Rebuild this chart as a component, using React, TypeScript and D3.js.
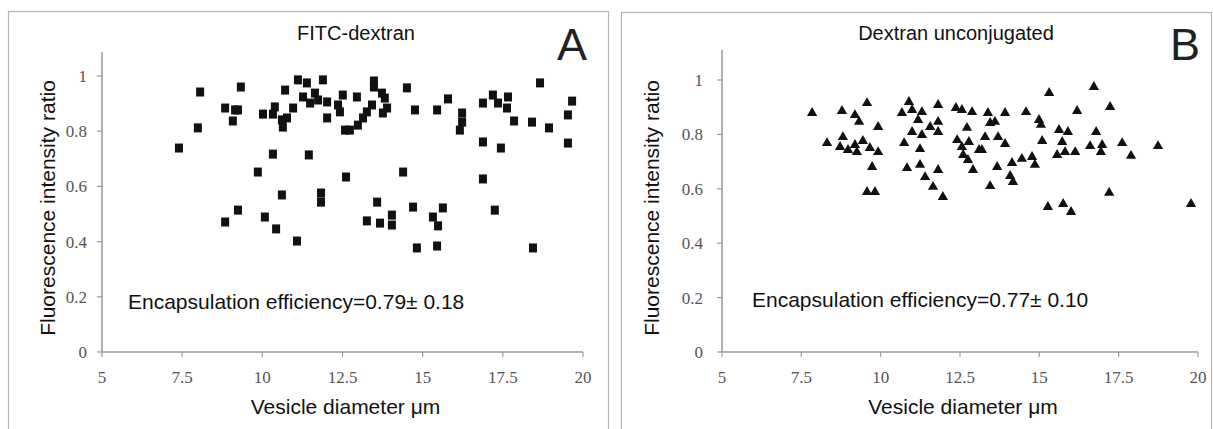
import React from "react";
import * as d3 from "d3";

// diameter (µm), fluorescence intensity ratio
const fitcPoints: [number, number][] = [
  [8.06, 0.942], [9.33, 0.96], [7.99, 0.812], [7.4, 0.739], [8.84, 0.884], [9.15, 0.877],
  [9.24, 0.877], [9.08, 0.837], [10.02, 0.862], [10.39, 0.888], [10.33, 0.862], [10.61, 0.841],
  [10.64, 0.815], [10.77, 0.848], [10.96, 0.884], [10.71, 0.949], [11.11, 0.986], [11.39, 0.975],
  [11.89, 0.986], [11.27, 0.924], [11.49, 0.902], [11.64, 0.938], [11.74, 0.913], [12.02, 0.906],
  [12.36, 0.895], [12.42, 0.87], [12.51, 0.931], [12.02, 0.848], [12.58, 0.804], [10.33, 0.717],
  [11.45, 0.714], [9.86, 0.652], [12.61, 0.634], [10.61, 0.569], [11.83, 0.576], [11.83, 0.543],
  [9.24, 0.514], [8.84, 0.471], [10.08, 0.489], [10.43, 0.446], [11.08, 0.402], [13.48, 0.982],
  [13.48, 0.96], [12.95, 0.924], [13.73, 0.938], [13.82, 0.92], [13.89, 0.884], [13.76, 0.866],
  [13.42, 0.895], [13.26, 0.87], [13.14, 0.848], [12.98, 0.822], [12.73, 0.804], [14.51, 0.957],
  [14.76, 0.877], [15.45, 0.877], [15.79, 0.917], [16.23, 0.866], [16.23, 0.833], [16.16, 0.804],
  [16.88, 0.902], [17.19, 0.931], [17.35, 0.902], [17.66, 0.924], [17.63, 0.884], [17.85, 0.837],
  [18.41, 0.833], [18.94, 0.812], [18.66, 0.975], [19.66, 0.909], [19.53, 0.859], [19.53, 0.757],
  [16.88, 0.761], [17.44, 0.739], [14.39, 0.652], [16.88, 0.627], [13.58, 0.543], [14.7, 0.525],
  [15.63, 0.522], [14.04, 0.496], [14.04, 0.46], [13.26, 0.475], [13.67, 0.467], [15.32, 0.489],
  [15.48, 0.457], [17.25, 0.514], [14.82, 0.377], [15.45, 0.384], [18.44, 0.377],
];

const dextranPoints: [number, number][] = [
  [7.84, 0.879], [8.78, 0.886], [9.57, 0.915], [9.19, 0.871], [9.32, 0.846], [9.92, 0.827],
  [8.31, 0.768], [8.81, 0.79], [8.72, 0.754], [8.97, 0.743], [9.19, 0.761], [9.25, 0.735],
  [9.44, 0.776], [9.66, 0.75], [9.92, 0.735], [9.73, 0.68], [9.57, 0.588], [9.82, 0.588],
  [10.89, 0.919], [10.67, 0.879], [10.99, 0.89], [11.3, 0.882], [11.18, 0.853], [11.81, 0.908],
  [11.56, 0.827], [11.81, 0.846], [11.81, 0.809], [10.99, 0.809], [11.3, 0.798], [10.74, 0.768],
  [11.24, 0.746], [10.83, 0.676], [11.24, 0.688], [11.4, 0.643], [11.81, 0.669], [11.65, 0.607],
  [11.96, 0.57], [12.37, 0.897], [12.56, 0.89], [12.88, 0.882], [12.72, 0.824], [12.41, 0.779],
  [12.56, 0.754], [12.78, 0.772], [12.6, 0.724], [13.1, 0.743], [12.75, 0.706], [12.91, 0.669],
  [15.31, 0.952], [16.72, 0.974], [16.19, 0.886], [17.23, 0.901], [13.38, 0.879], [13.92, 0.879],
  [14.58, 0.882], [14.99, 0.853], [15.05, 0.835], [13.45, 0.842], [13.6, 0.846], [13.29, 0.79],
  [13.7, 0.79], [13.92, 0.765], [15.09, 0.776], [13.19, 0.743], [15.62, 0.816], [15.9, 0.809],
  [15.72, 0.772], [15.56, 0.724], [15.81, 0.735], [16.13, 0.735], [16.79, 0.809], [16.6, 0.757],
  [16.98, 0.761], [16.94, 0.735], [17.61, 0.768], [17.89, 0.721], [18.74, 0.757], [13.67, 0.68],
  [14.14, 0.695], [14.45, 0.71], [14.77, 0.717], [14.86, 0.688], [14.08, 0.647], [14.17, 0.625],
  [13.45, 0.61], [17.2, 0.585], [15.27, 0.533], [15.75, 0.544], [16.0, 0.515], [19.78, 0.544],
];

const xTicks = [5, 7.5, 10, 12.5, 15, 17.5, 20];
const yTicks = [0, 0.2, 0.4, 0.6, 0.8, 1];

const panels = [
  {
    key: "A",
    title: "FITC-dextran",
    note: "Encapsulation efficiency=0.79\u00b1 0.18",
    points: fitcPoints,
    marker: "square",
    frame: { x: 8.5, y: 11.5, w: 600, h: 430 },
    x: [102, 583], y: [352, 76], axisTop: 52,
    yLabelGap: 15, yTitleX: 48,
    titleX: 356, noteX: 128, noteY: 309, letterX: 557,
  },
  {
    key: "B",
    title: "Dextran unconjugated",
    note: "Encapsulation efficiency=0.77\u00b1 0.10",
    points: dextranPoints,
    marker: "triangle",
    frame: { x: 621.5, y: 12.5, w: 590, h: 430 },
    x: [722, 1198], y: [352, 80], axisTop: 50,
    yLabelGap: 19, yTitleX: 652,
    titleX: 956, noteX: 752, noteY: 307, letterX: 1170,
  },
];

const sans = "'Liberation Sans', Arial, sans-serif";
const serif = "'Liberation Serif', 'Times New Roman', serif";
const axisColor = "#9a9a9a";

const Panel = ({ p }: { p: any }) => {
  const xScale = d3.scaleLinear().domain([5, 20]).range(p.x);
  const yScale = d3.scaleLinear().domain([0, 1]).range(p.y);
  const tri = d3.symbol(d3.symbolTriangle, 46)();
  const y0 = yScale(0);
  const xMid = (p.x[0] + p.x[1]) / 2;

  return (
    <g>
      <rect x={p.frame.x} y={p.frame.y} width={p.frame.w} height={p.frame.h}
        fill="#fff" stroke="#b4b4b4" strokeWidth={1.2} />

      {/* axes */}
      <line x1={xScale(5)} x2={xScale(5)} y1={p.axisTop} y2={y0} stroke={axisColor} strokeWidth={1.5} />
      <line x1={xScale(5)} x2={xScale(20)} y1={y0} y2={y0} stroke={axisColor} strokeWidth={1.5} />
      {yTicks.map((t) => (
        <g key={"y" + t}>
          <line x1={xScale(5) - 5} x2={xScale(5)} y1={yScale(t)} y2={yScale(t)} stroke={axisColor} strokeWidth={1.2} />
          <text x={xScale(5) - p.yLabelGap} y={yScale(t)} dy="0.35em" textAnchor="end"
            fontFamily={serif} fontSize={17} fill="#555">{String(t)}</text>
        </g>
      ))}
      {xTicks.map((t) => (
        <g key={"x" + t}>
          <line x1={xScale(t)} x2={xScale(t)} y1={y0} y2={y0 + 5} stroke={axisColor} strokeWidth={1.2} />
          <text x={xScale(t)} y={383} textAnchor="middle"
            fontFamily={serif} fontSize={17} fill="#555">{String(t)}</text>
        </g>
      ))}

      {/* points */}
      {p.points.map((d: [number, number], i: number) =>
        p.marker === "square" ? (
          <rect key={i} x={xScale(d[0]) - 4} y={yScale(d[1]) - 4.5} width={8} height={9} fill="#111" />
        ) : (
          <path key={i} d={tri as string} transform={`translate(${xScale(d[0])},${yScale(d[1])})`} fill="#111" />
        )
      )}

      {/* text */}
      <text x={p.titleX} y={40} textAnchor="middle" fontFamily={sans} fontSize={20} fill="#111">{p.title}</text>
      <text x={p.letterX} y={60} fontFamily={sans} fontSize={45} fill="#222">{p.key}</text>
      <text x={p.noteX} y={p.noteY} fontFamily={sans} fontSize={21} fill="#111">{p.note}</text>
      <text x={xMid + 3} y={414} textAnchor="middle" fontFamily={sans} fontSize={21} fill="#111">
        Vesicle diameter {"\u03bcm"}
      </text>
      <text transform={`translate(${p.yTitleX},208) rotate(-90)`} dy="0.35em" textAnchor="middle"
        fontFamily={sans} fontSize={21} fill="#111">Fluorescence intensity ratio</text>
    </g>
  );
};

const App = () => {
  return (
    <div style={{ position: "absolute", left: 0, top: 0 }}>
      <svg width={1213} height={429} style={{ display: "block", background: "#fff" }}>
        {panels.map((p) => (
          <Panel key={p.key} p={p} />
        ))}
      </svg>
    </div>
  );
};

export default App;
